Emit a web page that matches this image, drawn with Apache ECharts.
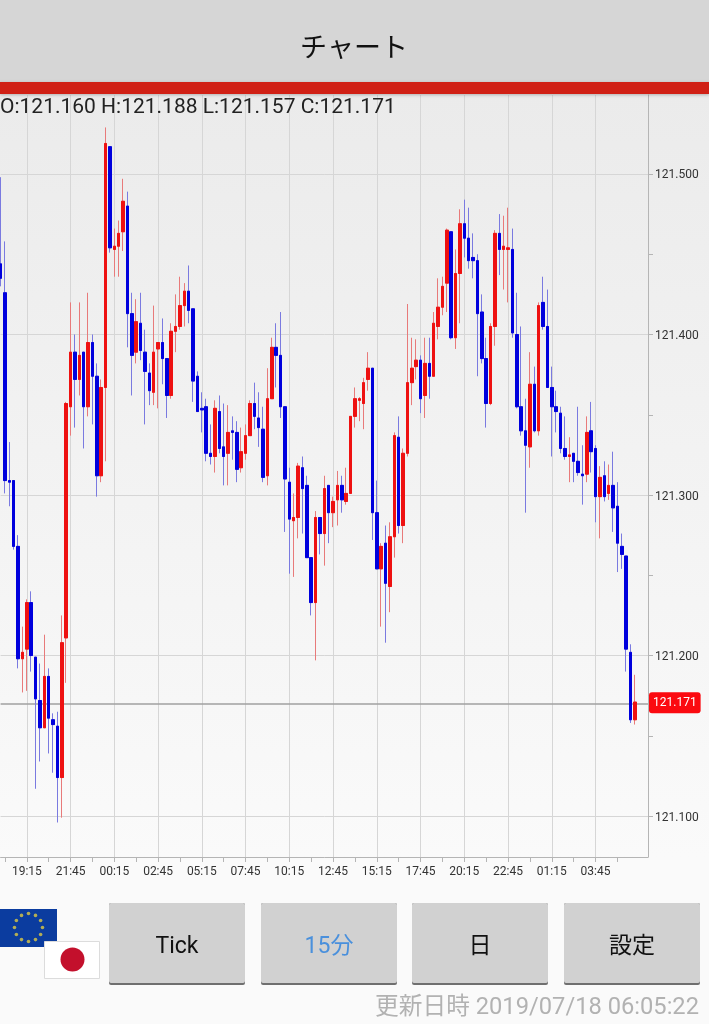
<!DOCTYPE html>
<html>
<head>
<meta charset="utf-8">
<title>チャート</title>
<style>
html, body { margin: 0; padding: 0; background: #fafafa; }
#main { width: 709px; height: 1024px; }
</style>
<script src="https://cdn.jsdelivr.net/npm/echarts@6/dist/echarts.min.js"></script>
</head>
<body>
<div id="main"></div>
<script>
// USD/JPY 15 min bars
let opens = [
121.444,121.426,121.309,121.309,121.268,121.198,121.204,121.233,121.199,121.172,
121.155,121.187,121.160,121.156,121.124,121.211,121.355,121.389,121.372,121.389,
121.355,121.395,121.374,121.312,121.367,121.517,121.453,121.455,121.464,121.480,
121.413,121.389,121.407,121.389,121.376,121.364,121.391,121.395,121.385,121.362,
121.402,121.405,121.418,121.427,121.416,121.374,121.354,121.355,121.326,121.324,
121.352,121.330,121.326,121.340,121.339,121.317,121.326,121.337,121.357,121.348,
121.341,121.312,121.360,121.392,121.387,121.355,121.308,121.284,121.286,121.317,
121.306,121.261,121.233,121.286,121.276,121.306,121.289,121.297,121.306,121.296,
121.301,121.349,121.359,121.357,121.372,121.379,121.289,121.254,121.270,121.243,
121.274,121.336,121.281,121.326,121.370,121.380,121.384,121.362,121.382,121.374,
121.405,121.417,121.432,121.464,121.398,121.438,121.469,121.460,121.448,121.446,
121.414,121.385,121.357,121.405,121.463,121.453,121.453,121.453,121.400,121.355,
121.340,121.330,121.369,121.340,121.420,121.405,121.367,121.355,121.351,121.329,
121.324,121.326,121.321,121.313,121.313,121.340,121.329,121.299,121.312,121.301,
121.306,121.293,121.268,121.262,121.202,121.160
];
let closes = [
121.435,121.309,121.308,121.268,121.198,121.202,121.233,121.200,121.173,121.155,
121.187,121.161,121.157,121.124,121.208,121.357,121.389,121.372,121.387,121.355,
121.395,121.374,121.312,121.367,121.519,121.454,121.455,121.463,121.483,121.413,
121.387,121.408,121.390,121.377,121.365,121.389,121.395,121.385,121.362,121.402,
121.405,121.418,121.427,121.415,121.371,121.352,121.353,121.326,121.324,121.354,
121.329,121.324,121.339,121.339,121.316,121.327,121.337,121.357,121.349,121.342,
121.311,121.360,121.392,121.387,121.355,121.310,121.285,121.286,121.318,121.304,
121.261,121.233,121.286,121.276,121.304,121.289,121.296,121.306,121.297,121.301,
121.349,121.360,121.360,121.370,121.379,121.289,121.254,121.268,121.245,121.274,
121.337,121.281,121.326,121.370,121.379,121.384,121.360,121.382,121.374,121.407,
121.417,121.430,121.465,121.398,121.438,121.469,121.460,121.446,121.446,121.413,
121.385,121.357,121.405,121.463,121.453,121.455,121.454,121.401,121.355,121.340,
121.331,121.369,121.340,121.418,121.405,121.367,121.355,121.352,121.329,121.324,
121.325,121.321,121.314,121.312,121.339,121.327,121.299,121.311,121.299,121.306,
121.292,121.270,121.263,121.204,121.160,121.171
];
let lows = [
121.430,121.301,121.293,121.266,121.192,121.177,121.178,121.190,121.117,121.134,
121.155,121.139,121.127,121.096,121.099,121.183,121.337,121.342,121.362,121.329,
121.349,121.344,121.299,121.308,121.321,121.451,121.436,121.436,121.452,121.392,
121.362,121.382,121.384,121.344,121.356,121.356,121.354,121.369,121.348,121.360,
121.389,121.403,121.405,121.407,121.358,121.352,121.339,121.321,121.319,121.314,
121.326,121.306,121.306,121.322,121.308,121.314,121.322,121.337,121.341,121.330,
121.308,121.306,121.360,121.367,121.348,121.277,121.251,121.249,121.273,121.276,
121.261,121.225,121.197,121.263,121.256,121.270,121.280,121.281,121.289,121.294,
121.301,121.342,121.346,121.341,121.365,121.272,121.254,121.218,121.208,121.227,
121.261,121.276,121.270,121.324,121.356,121.372,121.351,121.348,121.360,121.374,
121.397,121.412,121.414,121.397,121.391,121.407,121.448,121.441,121.435,121.374,
121.382,121.342,121.356,121.393,121.437,121.428,121.420,121.398,121.354,121.337,
121.289,121.317,121.339,121.337,121.403,121.367,121.324,121.339,121.326,121.322,
121.308,121.308,121.312,121.294,121.308,121.314,121.283,121.273,121.296,121.297,
121.277,121.252,121.254,121.190,121.158,121.157
];
let highs = [
121.498,121.458,121.333,121.309,121.275,121.218,121.235,121.240,121.199,121.195,
121.213,121.192,121.164,121.165,121.225,121.358,121.420,121.400,121.420,121.389,
121.426,121.400,121.382,121.372,121.529,121.517,121.466,121.471,121.497,121.489,
121.426,121.422,121.426,121.403,121.382,121.418,121.395,121.410,121.385,121.407,
121.425,121.436,121.432,121.443,121.416,121.377,121.364,121.360,121.344,121.359,
121.362,121.357,121.356,121.349,121.346,121.342,121.344,121.359,121.370,121.364,
121.355,121.379,121.398,121.407,121.414,121.355,121.317,121.301,121.320,121.324,
121.312,121.261,121.290,121.286,121.312,121.306,121.299,121.315,121.312,121.317,
121.349,121.367,121.361,121.373,121.389,121.379,121.309,121.270,121.281,121.283,
121.339,121.349,121.329,121.419,121.398,121.397,121.387,121.398,121.398,121.414,
121.435,121.436,121.466,121.464,121.453,121.478,121.484,121.479,121.463,121.450,
121.425,121.398,121.407,121.465,121.475,121.474,121.479,121.466,121.426,121.405,
121.360,121.389,121.380,121.420,121.436,121.428,121.380,121.365,121.355,121.349,
121.336,121.326,121.355,121.331,121.349,121.358,121.331,121.318,121.321,121.319,
121.327,121.308,121.276,121.262,121.207,121.188
];
let priceTicks = [121.10, 121.15, 121.20, 121.25, 121.30, 121.35, 121.40, 121.45, 121.50];
let priceLabels = [121.10, 121.20, 121.30, 121.40, 121.50];
let lastPrice = 121.171;
let ohlcText = 'O:121.160 H:121.188 L:121.157 C:121.171';
let buttonLabels = ['Tick', '15分', '日', '設定'];
let updatedText = '更新日時 2019/07/18 06:05:22';

// bar times, first bar 17:45, three empty slots after the last one
let times = [];
for (let i = 0; i < opens.length + 3; i++) {
    let mins = (17 * 60 + 45 + i * 15) % 1440;
    times.push(String(Math.floor(mins / 60)).padStart(2, '0') + ':' + String(mins % 60).padStart(2, '0'));
}

let wickData = opens.map(function (o, i) {
    return [o, closes[i], lows[i], highs[i]];
});
let bodyData = opens.map(function (o, i) {
    return [o, closes[i], Math.min(o, closes[i]), Math.max(o, closes[i])];
});

// horizontal grid at every 0.1, plus the current price line with its tag
let gridLines = priceLabels.map(function (p) {
    return { yAxis: p, lineStyle: { color: '#d6d6d6', width: 1 }, label: { show: false } };
});

let font = 'Roboto, "Noto Sans CJK JP", sans-serif';

function buildGraphic() {
    let els = [
        { type: 'rect', z: -10, silent: true, shape: { x: 0, y: 94, width: 709, height: 763 },
          style: { fill: new echarts.graphic.LinearGradient(0, 0, 0, 1, [
              { offset: 0, color: '#ebebeb' }, { offset: 1, color: '#fafafa' }
          ]) } },
        { type: 'rect', z: 50, shape: { x: 0, y: 0, width: 709, height: 82 }, style: { fill: '#d6d6d6' } },
        { type: 'rect', z: 51, shape: { x: 0, y: 82, width: 709, height: 12 },
          style: { fill: '#d02015', shadowBlur: 3, shadowColor: 'rgba(0,0,0,0.25)', shadowOffsetY: 1 } },
        { type: 'text', z: 52, style: { x: 354, y: 50, text: 'チャート', fill: '#111', font: '27px ' + font, align: 'center', verticalAlign: 'middle' } },
        { type: 'text', z: 52, style: { x: 0, y: 108, text: ohlcText, fill: '#222', font: '21px ' + font, align: 'left', verticalAlign: 'middle' } },
        { type: 'text', z: 52, style: { x: 699, y: 1008, text: updatedText, fill: '#b2b2b2', font: '23.7px ' + font, align: 'right', verticalAlign: 'middle' } },
        // flags
        { type: 'rect', z: 52, shape: { x: 0, y: 909, width: 57, height: 38 }, style: { fill: '#0b3c9f' } },
        { type: 'rect', z: 53, shape: { x: 44.5, y: 941.5, width: 55, height: 37 }, style: { fill: '#fff', stroke: '#dcdcdc', lineWidth: 1 } },
        { type: 'circle', z: 54, shape: { cx: 72.5, cy: 959.5, r: 12 }, style: { fill: '#c3102c' } }
    ];
    for (let s = 0; s < 12; s++) {
        let a = s * Math.PI / 6;
        els.push({ type: 'circle', z: 53, shape: { cx: 28.5 + 14 * Math.cos(a), cy: 927.5 + 14 * Math.sin(a), r: 1.8 }, style: { fill: '#b3ad55' } });
    }
    let btnX = [109, 261, 412, 564];
    buttonLabels.forEach(function (label, i) {
        els.push({ type: 'rect', z: 52, shape: { x: btnX[i], y: 903, width: 136, height: 82, r: 2 }, style: { fill: '#6f6f6f' } });
        els.push({ type: 'rect', z: 53, shape: { x: btnX[i], y: 903, width: 136, height: 80, r: 2 }, style: { fill: '#d1d1d1' } });
        els.push({ type: 'text', z: 54, style: {
            x: btnX[i] + 68, y: 947, text: label, fill: i === 1 ? '#4a90dc' : '#111',
            font: '23px ' + font, align: 'center', verticalAlign: 'middle'
        } });
    });
    return els;
}

let chart = echarts.init(document.getElementById('main'), null, { renderer: 'canvas' });

let option = {
    animation: false,
    backgroundColor: '#fafafa',
    graphic: { elements: buildGraphic() },
    grid: { left: 0.6, top: 95, width: 647.4, height: 762, show: false },
    xAxis: {
        type: 'category',
        data: times,
        boundaryGap: false,
        axisLine: { onZero: false, lineStyle: { color: '#b5b5b5', width: 1 } },
        axisTick: {
            length: 5,
            interval: function (i) { return (i - 1) % 5 === 0 && i <= 141; },
            lineStyle: { color: '#b5b5b5' }
        },
        axisLabel: {
            interval: function (i) { return (i - 6) % 10 === 0 && i >= 6 && i <= 136; },
            color: '#333', fontSize: 12, fontFamily: 'Roboto', margin: 9, hideOverlap: false
        },
        splitLine: {
            show: true,
            interval: function (i) { return (i - 6) % 10 === 0 && i >= 6 && i <= 136; },
            lineStyle: { color: '#d6d6d6', width: 1 }
        }
    },
    yAxis: {
        type: 'value',
        position: 'right',
        min: 121.0745,
        max: 121.5492,
        scale: true,
        axisLine: { show: true, lineStyle: { color: '#b5b5b5', width: 1 } },
        axisTick: { show: true, length: 5, customValues: priceTicks, lineStyle: { color: '#b5b5b5' } },
        axisLabel: {
            customValues: priceLabels, color: '#333', fontSize: 12, fontFamily: 'Roboto', margin: 7,
            formatter: function (v) { return '{p|' + v.toFixed(3) + '}'; },
            rich: { p: { padding: [3, 0, 0, 0], color: '#333', fontSize: 12, fontFamily: 'Roboto' } }
        },
        splitLine: { show: false }
    },
    series: [
        {
            name: 'wick',
            type: 'candlestick',
            z: 3,
            clip: false,
            barWidth: 3,
            data: wickData,
            itemStyle: { color: '#e87a7a', color0: '#7a7ae0', borderColor: '#e87a7a', borderColor0: '#7a7ae0', borderWidth: 1 },
            markLine: {
                silent: true,
                z: 2,
                symbol: 'none',
                animation: false,
                lineStyle: { color: '#a0a0a0', width: 1.5, type: 'solid' },
                label: {
                    position: 'end', distance: 1, color: '#fff', backgroundColor: '#fb0a10',
                    borderRadius: 3, padding: [5, 4, 4, 4], fontSize: 12, fontFamily: 'Roboto',
                    offset: [0, -1],
                    formatter: function () { return lastPrice.toFixed(3); }
                },
                data: gridLines.concat([{ yAxis: lastPrice }])
            }
        },
        {
            name: 'body',
            type: 'candlestick',
            z: 4,
            clip: false,
            barWidth: 3,
            data: bodyData,
            itemStyle: { color: '#ee1111', color0: '#0000dd', borderColor: '#ee1111', borderColor0: '#0000dd', borderWidth: 1 }
        }
    ]
};

chart.setOption(option);
</script>
</body>
</html>
